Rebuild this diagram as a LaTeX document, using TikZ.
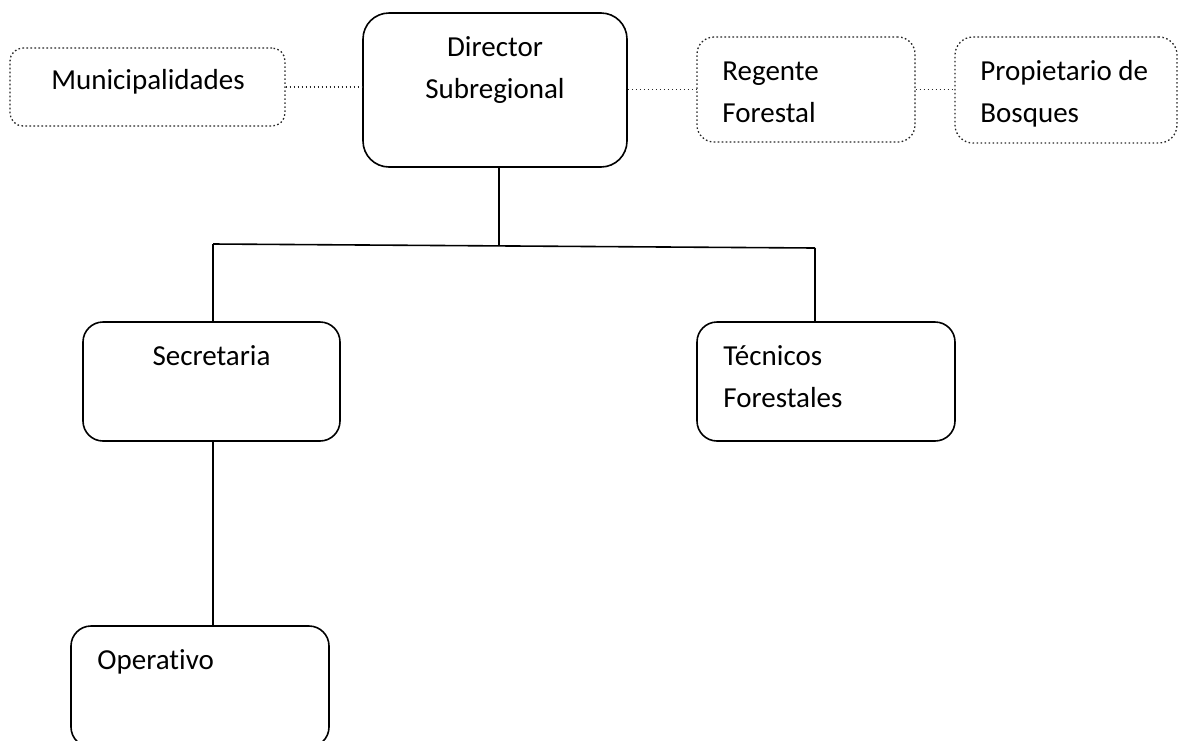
\documentclass[tikz,border=0pt]{standalone}
\usepackage{fontspec}
\setmainfont{Carlito}[Ligatures=NoCommon]
\usepackage{tikz}
\usetikzlibrary{positioning,calc}

\begin{document}
\begin{tikzpicture}[
    x=0.5pt, y=-0.5pt,
    box/.style={rectangle, draw=black, line width=0.8pt, inner sep=0pt},
    dotbox/.style={rectangle, draw=black!85, line width=0.65pt, dash pattern=on 0.8pt off 1.2pt, inner sep=0pt},
    link/.style={draw=black, line width=0.8pt},
    dotlink/.style={draw=black!85, line width=0.65pt, dash pattern=on 0.8pt off 1.2pt},
    label text/.style={inner sep=0pt, font=\fontsize{14.5}{21}\selectfont}
]
    \useasboundingbox (0,0) rectangle (1178,740);

    \node[dotbox, minimum width=137.5pt, minimum height=39pt, rounded corners=6.5pt] (municipalidades) at (147.5,87) {};
    \node[box, minimum width=132pt, minimum height=77pt, rounded corners=13pt] (director) at (495,90) {};
    \node[dotbox, minimum width=109pt, minimum height=52.5pt, rounded corners=8.5pt] (regente) at (806,89.5) {};
    \node[dotbox, minimum width=111pt, minimum height=53pt, rounded corners=9pt] (propietario) at (1066,90) {};
    \node[box, minimum width=128.5pt, minimum height=59.5pt, rounded corners=10pt] (secretaria) at (211.5,381.5) {};
    \node[box, minimum width=129pt, minimum height=59.5pt, rounded corners=10pt] (tecnicos) at (826,381.5) {};
    \node[box, minimum width=129pt, minimum height=60.5pt, rounded corners=10pt] (operativo) at (200,686.5) {};

    \node[label text, anchor=base] (municipalidades text) at (148,89) {Municipalidades};
    \node[label text, anchor=base, align=center] (director text) at (495,98) {Director\\Subregional};
    \node[label text, anchor=base west, align=left] (regente text) at (722,122) {Regente\\Forestal};
    \node[label text, anchor=base west, align=left] (propietario text) at (980,122) {Propietario de\\Bosques};
    \node[label text, anchor=base] (secretaria text) at (211.5,365) {Secretaria};
    \node[label text, anchor=base west, align=left] (tecnicos text) at (723,407) {Técnicos\\Forestales};
    \node[label text, anchor=base west] (operativo text) at (97,669) {Operativo};

    \coordinate (branch) at (499,246);
    \coordinate (branch left) at (213,244);
    \coordinate (branch right) at (815,248);

    \draw[dotlink] (municipalidades.east) -- (municipalidades.east -| director.west);
    \draw[dotlink] (director.east |- regente.west) -- (regente.west);
    \draw[dotlink] (regente.east) -- (regente.east -| propietario.west);

    \draw[link] (director.south -| branch) -- (branch);
    \draw[link] (branch left) -- (branch right);
    \draw[link] (branch left) -- (branch left |- secretaria.north);
    \draw[link] (branch right) -- (branch right |- tecnicos.north);
    \draw[link] (branch left |- secretaria.south) -- (branch left |- operativo.north);
\end{tikzpicture}
\end{document}
